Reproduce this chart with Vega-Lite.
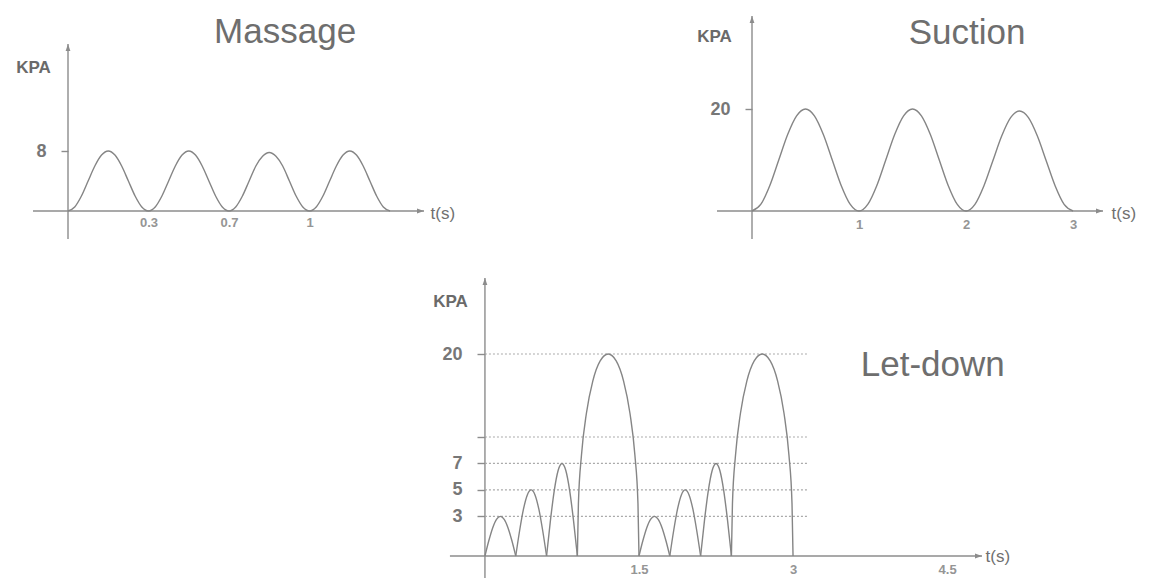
{
  "$schema": "https://vega.github.io/schema/vega-lite/v6.json",
  "background": "white",
  "padding": {"left": 15, "top": 15, "right": 0, "bottom": 0},
  "config": {
    "view": {"stroke": null},
    "font": "Liberation Sans",
    "axis": {"domain": false, "grid": false, "labelFont": "Liberation Sans", "titleFont": "Liberation Sans"},
    "axisX": {"ticks": false, "tickSize": 0, "labelFontSize": 13, "labelFontWeight": "bold", "labelColor": "#959595", "labelPadding": 5, "labelFlush": false, "labelOverlap": false, "titleAngle": 0, "titleAlign": "left", "titleBaseline": "middle", "titleFontSize": 17, "titleFontWeight": "normal", "titleColor": "#707070"},
    "axisY": {"ticks": true, "tickSize": 7, "tickColor": "#8c8c8c", "tickWidth": 1.4, "labelFontSize": 18, "labelFontWeight": "bold", "labelColor": "#777777", "labelPadding": 15, "labelOverlap": false, "titleAngle": 0, "titleAlign": "center", "titleBaseline": "middle", "titleFontSize": 17, "titleFontWeight": "bold", "titleColor": "#6a6a6a"}
  },
  "datasets": {
    "massage": [
      {"t": 0, "kpa": 0}, {"t": 0.0278, "kpa": 0.54}, {"t": 0.0556, "kpa": 2}, {"t": 0.0833, "kpa": 4}, {"t": 0.1111, "kpa": 6}, {"t": 0.1389, "kpa": 7.46}, {"t": 0.1667, "kpa": 8}, {"t": 0.1944, "kpa": 7.46}, {"t": 0.2222, "kpa": 6}, {"t": 0.25, "kpa": 4}, {"t": 0.2778, "kpa": 2}, {"t": 0.3056, "kpa": 0.54},
      {"t": 0.3333, "kpa": 0}, {"t": 0.3611, "kpa": 0.54}, {"t": 0.3889, "kpa": 2}, {"t": 0.4167, "kpa": 4}, {"t": 0.4444, "kpa": 6}, {"t": 0.4722, "kpa": 7.46}, {"t": 0.5, "kpa": 8}, {"t": 0.5278, "kpa": 7.46}, {"t": 0.5556, "kpa": 6}, {"t": 0.5833, "kpa": 4}, {"t": 0.6111, "kpa": 2}, {"t": 0.6389, "kpa": 0.54},
      {"t": 0.6667, "kpa": 0}, {"t": 0.6944, "kpa": 0.54}, {"t": 0.7222, "kpa": 2}, {"t": 0.75, "kpa": 4}, {"t": 0.7778, "kpa": 6}, {"t": 0.8056, "kpa": 7.3}, {"t": 0.8333, "kpa": 7.8}, {"t": 0.8611, "kpa": 7.3}, {"t": 0.8889, "kpa": 6}, {"t": 0.9167, "kpa": 4}, {"t": 0.9444, "kpa": 2}, {"t": 0.9722, "kpa": 0.54},
      {"t": 1.0, "kpa": 0}, {"t": 1.0278, "kpa": 0.54}, {"t": 1.0556, "kpa": 2}, {"t": 1.0833, "kpa": 4}, {"t": 1.1111, "kpa": 6}, {"t": 1.1389, "kpa": 7.46}, {"t": 1.1667, "kpa": 8}, {"t": 1.1944, "kpa": 7.46}, {"t": 1.2222, "kpa": 6}, {"t": 1.25, "kpa": 4}, {"t": 1.2778, "kpa": 2}, {"t": 1.3056, "kpa": 0.54},
      {"t": 1.3333, "kpa": 0}
    ],
    "suction": [
      {"t": 0, "kpa": 0}, {"t": 0.0833, "kpa": 1.34}, {"t": 0.1667, "kpa": 5}, {"t": 0.25, "kpa": 10}, {"t": 0.3333, "kpa": 15}, {"t": 0.4167, "kpa": 18.66}, {"t": 0.5, "kpa": 20}, {"t": 0.5833, "kpa": 18.66}, {"t": 0.6667, "kpa": 15}, {"t": 0.75, "kpa": 10}, {"t": 0.8333, "kpa": 5}, {"t": 0.9167, "kpa": 1.34},
      {"t": 1, "kpa": 0}, {"t": 1.0833, "kpa": 1.34}, {"t": 1.1667, "kpa": 5}, {"t": 1.25, "kpa": 10}, {"t": 1.3333, "kpa": 15}, {"t": 1.4167, "kpa": 18.66}, {"t": 1.5, "kpa": 20}, {"t": 1.5833, "kpa": 18.66}, {"t": 1.6667, "kpa": 15}, {"t": 1.75, "kpa": 10}, {"t": 1.8333, "kpa": 5}, {"t": 1.9167, "kpa": 1.34},
      {"t": 2, "kpa": 0}, {"t": 2.0833, "kpa": 1.3}, {"t": 2.1667, "kpa": 4.9}, {"t": 2.25, "kpa": 9.8}, {"t": 2.3333, "kpa": 14.7}, {"t": 2.4167, "kpa": 18.3}, {"t": 2.5, "kpa": 19.6}, {"t": 2.5833, "kpa": 18.3}, {"t": 2.6667, "kpa": 14.7}, {"t": 2.75, "kpa": 9.8}, {"t": 2.8333, "kpa": 4.9}, {"t": 2.9167, "kpa": 1.3},
      {"t": 3, "kpa": 0}
    ],
    "letdown": [
      {"arch": 1, "t": 0, "kpa": 0}, {"arch": 1, "t": 0.0375, "kpa": 1.15}, {"arch": 1, "t": 0.075, "kpa": 2.12}, {"arch": 1, "t": 0.1125, "kpa": 2.77}, {"arch": 1, "t": 0.15, "kpa": 3}, {"arch": 1, "t": 0.1875, "kpa": 2.77}, {"arch": 1, "t": 0.225, "kpa": 2.12}, {"arch": 1, "t": 0.2625, "kpa": 1.15}, {"arch": 1, "t": 0.3, "kpa": 0},
      {"arch": 2, "t": 0.3, "kpa": 0}, {"arch": 2, "t": 0.3375, "kpa": 1.91}, {"arch": 2, "t": 0.375, "kpa": 3.54}, {"arch": 2, "t": 0.4125, "kpa": 4.62}, {"arch": 2, "t": 0.45, "kpa": 5}, {"arch": 2, "t": 0.4875, "kpa": 4.62}, {"arch": 2, "t": 0.525, "kpa": 3.54}, {"arch": 2, "t": 0.5625, "kpa": 1.91}, {"arch": 2, "t": 0.6, "kpa": 0},
      {"arch": 3, "t": 0.6, "kpa": 0}, {"arch": 3, "t": 0.6375, "kpa": 2.68}, {"arch": 3, "t": 0.675, "kpa": 4.95}, {"arch": 3, "t": 0.7125, "kpa": 6.47}, {"arch": 3, "t": 0.75, "kpa": 7}, {"arch": 3, "t": 0.7875, "kpa": 6.47}, {"arch": 3, "t": 0.825, "kpa": 4.95}, {"arch": 3, "t": 0.8625, "kpa": 2.68}, {"arch": 3, "t": 0.9, "kpa": 0},
      {"arch": 4, "t": 0.9, "kpa": 0}, {"arch": 4, "t": 0.91, "kpa": 3.96}, {"arch": 4, "t": 0.94, "kpa": 7.64}, {"arch": 4, "t": 0.988, "kpa": 12.15}, {"arch": 4, "t": 1.05, "kpa": 16.41}, {"arch": 4, "t": 1.122, "kpa": 19.09}, {"arch": 4, "t": 1.2, "kpa": 20}, {"arch": 4, "t": 1.278, "kpa": 19.09}, {"arch": 4, "t": 1.35, "kpa": 16.41}, {"arch": 4, "t": 1.412, "kpa": 12.15}, {"arch": 4, "t": 1.46, "kpa": 7.64}, {"arch": 4, "t": 1.49, "kpa": 3.96}, {"arch": 4, "t": 1.5, "kpa": 0},
      {"arch": 5, "t": 1.5, "kpa": 0}, {"arch": 5, "t": 1.5375, "kpa": 1.15}, {"arch": 5, "t": 1.575, "kpa": 2.12}, {"arch": 5, "t": 1.6125, "kpa": 2.77}, {"arch": 5, "t": 1.65, "kpa": 3}, {"arch": 5, "t": 1.6875, "kpa": 2.77}, {"arch": 5, "t": 1.725, "kpa": 2.12}, {"arch": 5, "t": 1.7625, "kpa": 1.15}, {"arch": 5, "t": 1.8, "kpa": 0},
      {"arch": 6, "t": 1.8, "kpa": 0}, {"arch": 6, "t": 1.8375, "kpa": 1.91}, {"arch": 6, "t": 1.875, "kpa": 3.54}, {"arch": 6, "t": 1.9125, "kpa": 4.62}, {"arch": 6, "t": 1.95, "kpa": 5}, {"arch": 6, "t": 1.9875, "kpa": 4.62}, {"arch": 6, "t": 2.025, "kpa": 3.54}, {"arch": 6, "t": 2.0625, "kpa": 1.91}, {"arch": 6, "t": 2.1, "kpa": 0},
      {"arch": 7, "t": 2.1, "kpa": 0}, {"arch": 7, "t": 2.1375, "kpa": 2.68}, {"arch": 7, "t": 2.175, "kpa": 4.95}, {"arch": 7, "t": 2.2125, "kpa": 6.47}, {"arch": 7, "t": 2.25, "kpa": 7}, {"arch": 7, "t": 2.2875, "kpa": 6.47}, {"arch": 7, "t": 2.325, "kpa": 4.95}, {"arch": 7, "t": 2.3625, "kpa": 2.68}, {"arch": 7, "t": 2.4, "kpa": 0},
      {"arch": 8, "t": 2.4, "kpa": 0}, {"arch": 8, "t": 2.41, "kpa": 3.96}, {"arch": 8, "t": 2.44, "kpa": 7.64}, {"arch": 8, "t": 2.488, "kpa": 12.15}, {"arch": 8, "t": 2.55, "kpa": 16.41}, {"arch": 8, "t": 2.622, "kpa": 19.09}, {"arch": 8, "t": 2.7, "kpa": 20}, {"arch": 8, "t": 2.778, "kpa": 19.09}, {"arch": 8, "t": 2.85, "kpa": 16.41}, {"arch": 8, "t": 2.912, "kpa": 12.15}, {"arch": 8, "t": 2.96, "kpa": 7.64}, {"arch": 8, "t": 2.99, "kpa": 3.96}, {"arch": 8, "t": 3.0, "kpa": 0}
    ],
    "levels": [{"level": 3}, {"level": 5}, {"level": 7}, {"level": 9}, {"level": 20}]
  },
  "bounds": "flush",
  "spacing": 262,
  "vconcat": [
    {
      "bounds": "flush",
      "spacing": 328,
      "hconcat": [
        {
          "width": 356,
          "height": 195,
          "data": {"values": [{}]},
          "layer": [
            {"mark": {"type": "rule", "color": "#8c8c8c", "strokeWidth": 1.4},
             "encoding": {"y": {"datum": 0}, "x": {"datum": -0.145}, "x2": {"datum": 1.474}}},
            {"mark": {"type": "rule", "color": "#8c8c8c", "strokeWidth": 1.4},
             "encoding": {"x": {"datum": 0}, "y": {"datum": -3.73}, "y2": {"datum": 22.27}}},
            {"mark": {"type": "point", "shape": "M0,0L-1.75,-0.6L-1.75,0.6Z", "size": 64, "filled": true, "color": "#8c8c8c", "opacity": 1},
             "encoding": {"x": {"datum": 1.474}, "y": {"datum": 0}}},
            {"mark": {"type": "point", "shape": "M0,0L-0.6,1.75L0.6,1.75Z", "size": 64, "filled": true, "color": "#8c8c8c", "opacity": 1},
             "encoding": {"x": {"datum": 0}, "y": {"datum": 22.27}}},
            {"mark": {"type": "text", "text": "Massage", "fontSize": 35, "color": "#6e6e6e", "align": "center", "baseline": "alphabetic"},
             "encoding": {"x": {"datum": 0.899}, "y": {"datum": 22.4}}},
            {"data": {"name": "massage"},
             "mark": {"type": "line", "interpolate": "monotone", "color": "#858585", "strokeWidth": 1.4},
             "encoding": {
               "x": {"field": "t", "type": "quantitative", "scale": {"domain": [0, 1.474], "nice": false, "zero": false},
                     "axis": {"values": [0.3333, 0.6667, 1], "labelExpr": "format(datum.value, '.1~f')", "title": "t(s)", "titleX": 362, "titleY": 2}},
               "y": {"field": "kpa", "type": "quantitative", "scale": {"domain": [0, 26], "nice": false, "zero": false},
                     "axis": {"values": [8], "title": "KPA", "titleX": -35, "titleY": 51}}
             }}
          ]
        },
        {
          "width": 351,
          "height": 195,
          "data": {"values": [{}]},
          "layer": [
            {"mark": {"type": "rule", "color": "#8c8c8c", "strokeWidth": 1.4},
             "encoding": {"y": {"datum": 0}, "x": {"datum": -0.327}, "x2": {"datum": 3.28}}},
            {"mark": {"type": "rule", "color": "#8c8c8c", "strokeWidth": 1.4},
             "encoding": {"x": {"datum": 0}, "y": {"datum": -5.49}, "y2": {"datum": 38.24}}},
            {"mark": {"type": "point", "shape": "M0,0L-1.75,-0.6L-1.75,0.6Z", "size": 64, "filled": true, "color": "#8c8c8c", "opacity": 1},
             "encoding": {"x": {"datum": 3.28}, "y": {"datum": 0}}},
            {"mark": {"type": "point", "shape": "M0,0L-0.6,1.75L0.6,1.75Z", "size": 64, "filled": true, "color": "#8c8c8c", "opacity": 1},
             "encoding": {"x": {"datum": 0}, "y": {"datum": 38.24}}},
            {"mark": {"type": "text", "text": "Suction", "fontSize": 35, "color": "#6e6e6e", "align": "center", "baseline": "alphabetic"},
             "encoding": {"x": {"datum": 2.01}, "y": {"datum": 32.75}}},
            {"data": {"name": "suction"},
             "mark": {"type": "line", "interpolate": "monotone", "color": "#858585", "strokeWidth": 1.4},
             "encoding": {
               "x": {"field": "t", "type": "quantitative", "scale": {"domain": [0, 3.28], "nice": false, "zero": false},
                     "axis": {"values": [1, 2, 3], "labelExpr": "format(datum.value, '~g')", "labelPadding": 7, "title": "t(s)", "titleX": 359, "titleY": 2}},
               "y": {"field": "kpa", "type": "quantitative", "scale": {"domain": [0, 38.24], "nice": false, "zero": false},
                     "axis": {"values": [20], "title": "KPA", "titleX": -38, "titleY": 20}}
             }}
          ]
        }
      ]
    },
    {
      "width": 914,
      "height": 278,
      "data": {"values": [{}]},
      "layer": [
        {"mark": {"type": "rule", "color": "#8c8c8c", "strokeWidth": 1.4},
         "encoding": {"y": {"datum": 0}, "x": {"datum": -0.341}, "x2": {"datum": 4.84}}},
        {"mark": {"type": "rule", "color": "#8c8c8c", "strokeWidth": 1.4},
         "encoding": {"x": {"datum": 0}, "y": {"datum": -1.74}, "y2": {"datum": 30.07}}},
        {"mark": {"type": "point", "shape": "M0,0L-1.75,-0.6L-1.75,0.6Z", "size": 64, "filled": true, "color": "#8c8c8c", "opacity": 1},
         "encoding": {"x": {"datum": 4.84}, "y": {"datum": 0}}},
        {"mark": {"type": "point", "shape": "M0,0L-0.6,1.75L0.6,1.75Z", "size": 64, "filled": true, "color": "#8c8c8c", "opacity": 1},
         "encoding": {"x": {"datum": 0}, "y": {"datum": 30.07}}},
        {"data": {"name": "levels"},
         "mark": {"type": "rule", "color": "#aaaaaa", "strokeWidth": 1.2, "strokeDash": [2, 2]},
         "encoding": {"y": {"field": "level", "type": "quantitative"}, "x": {"datum": 0}, "x2": {"datum": 3.145}}},
        {"mark": {"type": "text", "text": "Let-down", "fontSize": 35, "color": "#6e6e6e", "align": "center", "baseline": "alphabetic"},
         "encoding": {"x": {"datum": 4.36}, "y": {"datum": 17.08}}},
        {"data": {"name": "letdown"},
         "mark": {"type": "line", "interpolate": "monotone", "color": "#858585", "strokeWidth": 1.4},
         "encoding": {
           "detail": {"field": "arch", "type": "nominal"},
           "x": {"field": "t", "type": "quantitative", "scale": {"domain": [-4.06, 4.84], "nice": false, "zero": false},
                 "axis": {"values": [1.5, 3, 4.5], "labelExpr": "format(datum.value, '.1~f')", "labelPadding": 7, "title": "t(s)", "titleX": 917, "titleY": 0}},
           "y": {"field": "kpa", "type": "quantitative", "scale": {"domain": [0, 9, 20, 30.07], "range": [278, 159, 76, 0], "nice": false, "zero": false},
                 "axis": {"values": [3, 5, 7, 9, 20], "labelExpr": "datum.value == 9 ? '' : datum.label", "offset": -417, "tickSize": 8, "title": "KPA", "titleX": -35, "titleY": 23}}
         }}
      ]
    }
  ]
}
